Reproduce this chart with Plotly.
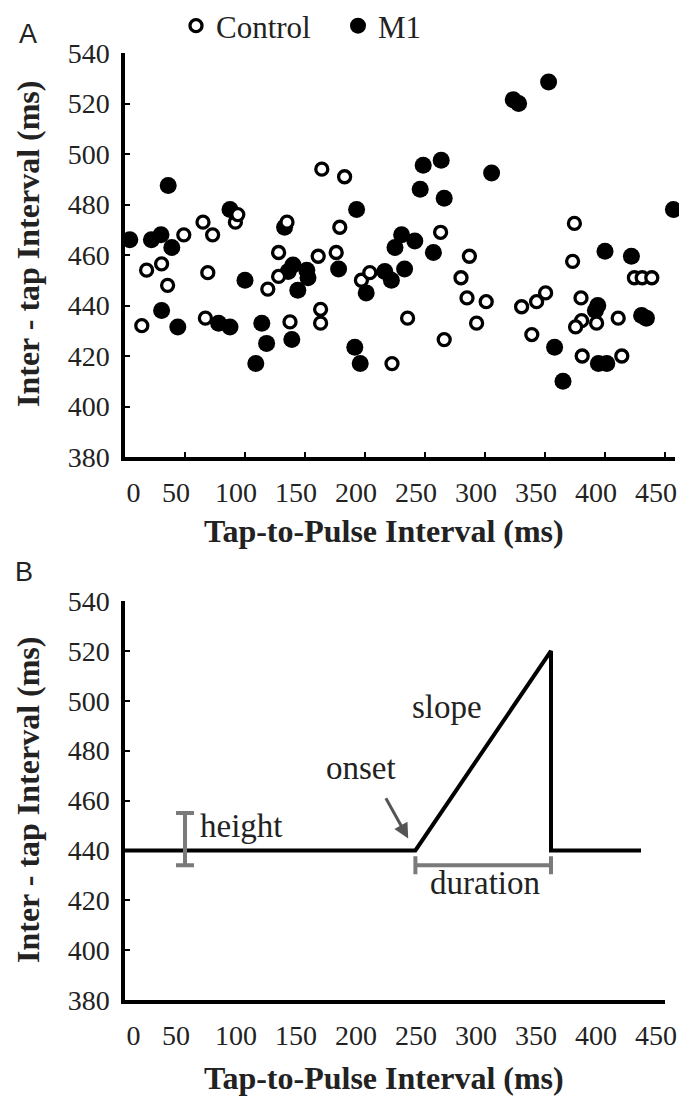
import plotly.graph_objects as go

# ---------------- data ----------------
control_x = [14, 18, 30.5, 35.5, 49, 65, 73, 69, 67, 92, 94, 128, 119, 128, 137.5, 135, 164, 183, 179, 176,
             161, 163, 163, 197, 204, 222.5, 235.5, 263, 287, 280, 285, 301, 293, 266, 330.5, 343, 350.5, 339,
             374.5, 373, 380, 380.5, 375.5, 393, 411, 381, 414, 424.5, 431, 439]
control_y = [432, 454, 456.5, 448, 468, 473, 468, 453, 435, 473, 476, 461, 446.5, 451.5, 433.5, 473, 494, 491,
             471, 461, 459.5, 438.5, 433, 450, 453, 417, 435, 469, 459.5, 451, 443, 441.5, 433, 426.5, 439.5,
             441.5, 445, 428.5, 472.5, 457.5, 443, 434, 431.5, 433, 435, 420, 420, 451, 451, 451]

m1_x = [4, 22, 30, 39, 36, 30.5, 44, 78, 87.5, 87.5, 100, 114, 118, 109, 133, 139, 140, 136, 151.5, 152.5,
        144, 178, 193, 191.5, 196, 216.5, 222, 201, 225, 230.5, 241.5, 257, 233, 248.5, 263.5, 246, 266, 305.5,
        323.5, 328, 353, 400, 422, 394, 392, 430.5, 434.5, 358, 365, 394.5, 401.5, 457]
m1_y = [466, 466, 468, 463, 487.5, 438, 431.5, 433, 431.5, 478, 450, 433, 425, 417, 471, 426.5, 456, 453.5,
        454, 451, 446, 454.5, 478, 423.5, 417, 453.5, 450, 445, 463, 468, 465.5, 461, 454.5, 495.5, 497.5,
        486, 482.5, 492.5, 521.5, 520, 528.5, 461.5, 459.5, 440, 438, 436, 435, 423.5, 410, 417, 417, 478]

model_x = [0, 242, 355, 355, 430]
model_y = [440, 440, 520, 440, 440]

height_x = [50]
height_y = [444.5]
height_err = [10.5]

duration_x = [298.5]
duration_y = [434]
duration_err = [56.5]

x_ticks = [0, 50, 100, 150, 200, 250, 300, 350, 400, 450]
x_tick_text = ["\u00a0" * 5 + "0", "50", "100", "150", "200", "250", "300", "350", "400", "450"]
y_ticks = [380, 400, 420, 440, 460, 480, 500, 520, 540]

SERIF = "Liberation Serif, Times New Roman, serif"
W, H = 679, 1097
GRAY = "#7a7a7a"
TXT = "#222"

fig = go.Figure()

fig.add_trace(go.Scatter(x=m1_x, y=m1_y, mode="markers", name="M1", legendrank=2,
                         marker=dict(symbol="circle", size=17, color="black", line=dict(width=0)),
                         xaxis="x", yaxis="y", cliponaxis=False))
fig.add_trace(go.Scatter(x=control_x, y=control_y, mode="markers", name="Control", legendrank=1,
                         marker=dict(symbol="circle", size=12, color="white", line=dict(width=3.3, color="black")),
                         xaxis="x", yaxis="y", cliponaxis=False))

# panel B
fig.add_trace(go.Scatter(x=model_x, y=model_y, mode="lines", showlegend=False,
                         line=dict(color="black", width=4), xaxis="x2", yaxis="y2"))
fig.add_trace(go.Scatter(x=height_x, y=height_y, mode="markers", showlegend=False,
                         marker=dict(size=1, color="rgba(0,0,0,0)"),
                         error_y=dict(type="data", array=height_err, color=GRAY, thickness=4, width=9),
                         xaxis="x2", yaxis="y2"))
fig.add_trace(go.Scatter(x=duration_x, y=duration_y, mode="markers", showlegend=False,
                         marker=dict(size=1, color="rgba(0,0,0,0)"),
                         error_x=dict(type="data", array=duration_err, color=GRAY, thickness=4, width=9),
                         xaxis="x2", yaxis="y2"))

X0 = 125          # px of x = 0
PX_PER = 1.2      # px per ms
xA_max = 458
xB_max = 450
xdA = [X0 / W, (X0 + xA_max * PX_PER) / W]
xdB = [X0 / W, (X0 + xB_max * PX_PER) / W]
yA = [1 - 457 / H, 1 - 53 / H]
yB = [1 - 1000 / H, 1 - 601 / H]

axis_common = dict(showgrid=False, zeroline=False, showline=True, linecolor="black", linewidth=3.5,
                   tickfont=dict(family=SERIF, size=28, color=TXT), tickcolor="black", automargin=False)
xaxis_common = dict(tickvals=x_ticks, ticktext=x_tick_text, ticklabelstandoff=8, ticklabelshift=-9,
                    ticklabeloverflow="allow", **axis_common)

fig.update_layout(
    width=W, height=H, margin=dict(l=0, r=0, t=0, b=0, pad=0, autoexpand=False),
    paper_bgcolor="white", plot_bgcolor="white",
    font=dict(family=SERIF, color=TXT),
    showlegend=True,
    legend=dict(orientation="h", x=176 / W, xanchor="left", y=1 - 26 / H, yanchor="middle",
                font=dict(family=SERIF, size=31, color=TXT), entrywidth=117, entrywidthmode="pixels",
                bgcolor="rgba(0,0,0,0)"),
    xaxis=dict(domain=xdA, anchor="y", range=[0, xA_max], ticks="inside", ticklen=5, tickwidth=1.5,
               **xaxis_common),
    yaxis=dict(domain=yA, anchor="x", range=[380, 540], tickvals=y_ticks, ticks="inside", ticklen=5,
               tickwidth=1.5, ticklabelstandoff=6, **axis_common),
    xaxis2=dict(domain=xdB, anchor="y2", range=[0, xB_max], ticks="", **xaxis_common),
    yaxis2=dict(domain=yB, anchor="x2", range=[380, 540], tickvals=y_ticks, ticks="inside", ticklen=5,
                tickwidth=1.5, ticklabelstandoff=6, **axis_common),
)

ann = []


def paper_text(text, xpx, ypx, size, family=SERIF, angle=0):
    return dict(text=text, x=xpx / W, y=1 - ypx / H, xref="paper", yref="paper", xanchor="center",
                yanchor="middle", textangle=angle, showarrow=False,
                font=dict(family=family, size=size, color=TXT))


# panel letters
ann.append(paper_text("A", 28, 34, 27, family="Liberation Sans, Arial, sans-serif"))
ann.append(paper_text("B", 24, 572, 27, family="Liberation Sans, Arial, sans-serif"))
# axis titles
ann.append(paper_text("<b>Inter - tap Interval (ms)</b>", 28, 244, 32, angle=-90))
ann.append(paper_text("<b>Inter - tap Interval (ms)</b>", 28, 800, 32, angle=-90))
ann.append(paper_text("<b>Tap-to-Pulse Interval (ms)</b>", 384, 531, 32))
ann.append(paper_text("<b>Tap-to-Pulse Interval (ms)</b>", 384, 1078, 32))
# panel B labels
lab_font = dict(family=SERIF, size=33, color=TXT)
ann.append(dict(text="height", x=61, y=449.8, xref="x2", yref="y2", xanchor="left", yanchor="middle",
                showarrow=False, font=lab_font))
ann.append(dict(text="onset", x=197, y=473, xref="x2", yref="y2", xanchor="center", yanchor="middle",
                showarrow=False, font=lab_font))
ann.append(dict(text="slope", x=268.5, y=497.5, xref="x2", yref="y2", xanchor="center", yanchor="middle",
                showarrow=False, font=lab_font))
ann.append(dict(text="duration", x=300, y=427, xref="x2", yref="y2", xanchor="center", yanchor="middle",
                showarrow=False, font=lab_font))
ann.append(dict(text="", x=236, y=444.8, ax=216.7, ay=461.5, xref="x2", yref="y2", axref="x2", ayref="y2",
                showarrow=True, arrowhead=2, arrowsize=1, arrowwidth=3, arrowcolor="#555"))
fig.update_layout(annotations=ann)

fig.write_html("out.html")
